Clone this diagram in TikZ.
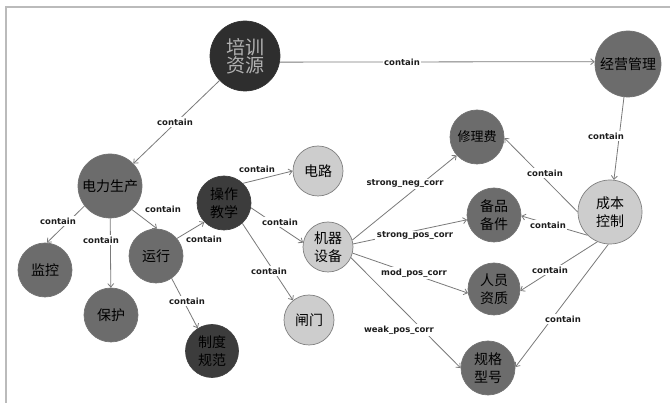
\documentclass[tikz,border=0pt]{standalone}
\usepackage{fontspec}
\usetikzlibrary{arrows.meta}
\newfontfamily\cjk{Noto Sans CJK SC}
\newfontfamily\labfont{DejaVu Sans}
\definecolor{dkfill}{HTML}{2E2E2E}
\definecolor{dk2fill}{HTML}{3C3C3C}
\definecolor{mdfill}{HTML}{6C6C6C}
\definecolor{ltfill}{HTML}{CDCDCD}
\definecolor{edgec}{HTML}{7A7A7A}
\definecolor{framec}{HTML}{BBBBBB}
\definecolor{labc}{HTML}{1E1E1E}
\begin{document}
\begin{tikzpicture}[x=1pt,y=-1pt,
  ent/.style={circle, inner sep=0pt, align=center, line width=0.7pt,
    font=\cjk\fontsize{14}{17.5}\selectfont, text=black},
  dark/.style={ent, fill=dkfill, draw=black!80},
  dark2/.style={ent, fill=dk2fill, draw=black!75},
  mid/.style={ent, fill=mdfill, draw=black!55},
  light/.style={ent, fill=ltfill, draw=black!50},
  edge/.style={draw=edgec, line width=0.8pt, -{Straight Barb[length=3.5pt,width=6pt]}},
  lab/.style={fill=white, inner sep=1.5pt, text=labc,
    font=\labfont\bfseries\fontsize{8.5}{10}\selectfont}
]
\useasboundingbox (0,0) rectangle (670,403);
\fill[white] (0,0) rectangle (670,403);
\draw[framec, line width=1.2pt] (6,403) -- (6,7) -- (670,7);

% nodes
\node[dark, minimum size=70pt, text=black!30, font=\cjk\fontsize{19}{18}\selectfont] (pxzy) at (245,56) {培训\\资源};
\node[mid, minimum size=66pt] (jygl) at (628,64) {经营管理};
\node[mid, minimum size=64pt] (dlsc) at (110,186) {电力生产};
\node[dark2, minimum size=54pt] (czjx) at (224,203) {操作\\教学};
\node[mid, minimum size=54pt] (yx) at (156,256) {运行};
\node[mid, minimum size=54pt] (jk) at (45,270) {监控};
\node[mid, minimum size=54pt] (bh) at (111,315) {保护};
\node[dark2, minimum size=53pt] (zdgf) at (212,351) {制度\\规范};
\node[light, minimum size=50pt] (dl) at (318,171) {电路};
\node[light, minimum size=50pt] (jqsb) at (328,247) {机器\\设备};
\node[light, minimum size=50pt] (zm) at (309,320) {闸门};
\node[mid, minimum size=54pt, font=\cjk\fontsize{13}{16}\selectfont] (xlf) at (477,137) {修理费};
\node[mid, minimum size=54pt] (bpbj) at (494,215) {备品\\备件};
\node[light, minimum size=64pt] (cbkz) at (610,212) {成本\\控制};
\node[mid, minimum size=52pt] (ryzz) at (494,289) {人员\\资质};
\node[mid, minimum size=54pt] (ggxh) at (488,368) {规格\\型号};

% connectors
\draw[edge] (pxzy) -- (dlsc);
\draw[edge] (pxzy.-10) -- (jygl.176);
\draw[edge] (jygl) -- (cbkz);
\draw[edge] (dlsc.-142) -- (jk.86);
\draw[edge] (dlsc) -- (bh);
\draw[edge] (dlsc.-47) -- (yx.88);
\draw[edge] (yx.40) -- (czjx.-136);
\draw[edge] (czjx.46) -- (dl.180);
\draw[edge] (czjx.-10) -- (jqsb.170);
\draw[edge] (czjx.-48) -- (zm.129);
\draw[edge] (yx.-55) -- (zdgf.122);
\draw[edge] (jqsb.16) -- (xlf.-138);
\draw[edge] (jqsb.7) -- (bpbj.190);
\draw[edge] (jqsb.-14) -- (ryzz.189);
\draw[edge] (jqsb.-25) -- (ggxh.180);
\draw[edge] (cbkz.180) -- (xlf.-2);
\draw[edge] (cbkz.-134) -- (bpbj.-2);
\draw[edge] (cbkz.-113) -- (ryzz.-4);
\draw[edge] (cbkz.-93) -- (ggxh.2);

% labels
\node[lab] (l1) at (175,122) {contain};
\node[lab] (l2) at (402,62) {contain};
\node[lab] (l3) at (606,136) {contain};
\node[lab] (l4) at (58,221) {contain};
\node[lab] (l5) at (101,240) {contain};
\node[lab] (l6) at (163,209) {contain};
\node[lab] (l7) at (204,239) {contain};
\node[lab] (l8) at (257,169) {contain};
\node[lab] (l9) at (280,222) {contain};
\node[lab] (l10) at (269,271) {contain};
\node[lab] (l11) at (187,301) {contain};
\node[lab] (l12) at (405,184) {strong\_neg\_corr};
\node[lab] (l13) at (415,236) {strong\_pos\_corr};
\node[lab] (l14) at (414,273) {mod\_pos\_corr};
\node[lab] (l15) at (399,330) {weak\_pos\_corr};
\node[lab] (l16) at (545,173) {contain};
\node[lab] (l17) at (548,225) {contain};
\node[lab] (l18) at (550,270) {contain};
\node[lab] (l19) at (563,319) {contain};
\end{tikzpicture}
\end{document}
